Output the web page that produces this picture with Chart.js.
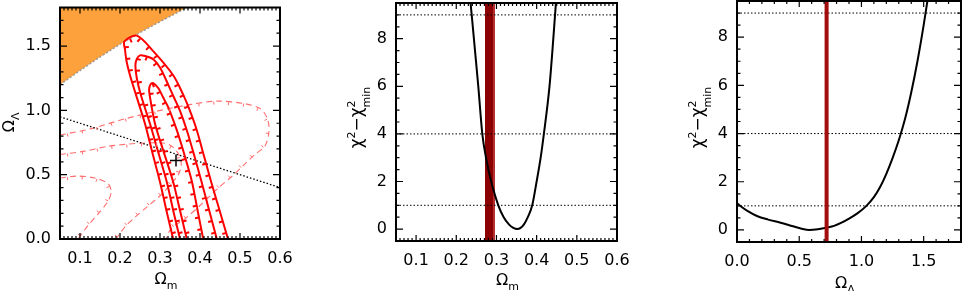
<!DOCTYPE html>
<html><head><meta charset="utf-8">
<script src="https://cdn.jsdelivr.net/npm/chart.js@4.4.1/dist/chart.umd.min.js"></script>
<style>
html,body{margin:0;padding:0;background:#fff;width:962px;height:291px;overflow:hidden}
canvas{position:absolute;top:0}
</style></head><body>
<canvas id="c1" width="320" height="291" style="left:0px;width:320px;height:291px"></canvas>
<canvas id="c2" width="320" height="291" style="left:320px;width:320px;height:291px"></canvas>
<canvas id="c3" width="322" height="291" style="left:640px;width:322px;height:291px"></canvas>
<script>
// ---------- Panel 1: Omega_m vs Omega_Lambda ----------
const noBigBangOm = [0.05, 0.10, 0.15, 0.20, 0.25, 0.30, 0.3675];
const noBigBangOl = [1.20, 1.31, 1.415, 1.515, 1.605, 1.69, 1.80];

// SN contours (3, 2, 1 sigma), traced bottom-left -> top -> bottom-right
const sn3Om = [0.333,0.316,0.300,0.281,0.2625,0.245,0.235,0.225,0.2165,0.2125,0.211,0.242,0.283,0.333,0.358,0.375,0.392,0.410,0.428,0.449,0.470];
const sn3Ol = [0.000,0.222,0.444,0.670,0.896,1.072,1.170,1.273,1.380,1.474,1.536,1.581,1.461,1.273,1.122,0.996,0.846,0.645,0.444,0.222,0.000];
const sn2Om = [0.350,0.333,0.317,0.296,0.275,0.252,0.242,0.2385,0.242,0.250,0.2625,0.283,0.300,0.321,0.335,0.350,0.367,0.386,0.404,0.423,0.442];
const sn2Ol = [0.000,0.222,0.444,0.670,0.896,1.122,1.250,1.350,1.400,1.428,1.423,1.398,1.333,1.197,1.100,0.996,0.846,0.645,0.444,0.222,0.000];
const sn1Om = [0.367,0.350,0.333,0.310,0.2875,0.274,0.273,0.277,0.283,0.296,0.308,0.321,0.342,0.362,0.380,0.394,0.408];
const sn1Ol = [0.000,0.222,0.444,0.670,0.896,1.122,1.170,1.205,1.212,1.172,1.100,1.022,0.846,0.645,0.444,0.222,0.000];

// BAO contours (3, 2, 1 sigma), dashed
const bao3Om = [0.05,0.128,0.212,0.295,0.378,0.445,0.512,0.553,0.570,0.572,0.562,0.537,0.512,0.478,0.445,0.403,0.362,0.328,0.315];
const bao3Ol = [0.808,0.858,0.934,0.996,1.047,1.072,1.052,1.009,0.921,0.821,0.721,0.657,0.582,0.482,0.394,0.269,0.156,0.083,0.000];
const bao2Om = [0.05,0.112,0.170,0.253,0.312,0.3325,0.349,0.353,0.345,0.328,0.303,0.270,0.237,0.212,0.190];
const bao2Ol = [0.657,0.683,0.721,0.745,0.745,0.715,0.645,0.570,0.495,0.431,0.344,0.256,0.168,0.093,0.000];
const bao1Om = [0.05,0.095,0.137,0.170,0.178,0.170,0.145,0.120,0.095];
const bao1Ol = [0.474,0.489,0.474,0.431,0.369,0.294,0.194,0.105,0.000];

const flatOm = [0.05, 0.60];
const flatOl = [0.95, 0.40];
const bestOm = [0.34];
const bestOl = [0.61];

// ---------- Panel 2: delta chi^2 vs Omega_m ----------
const chiOmX = [0.233,0.2355,0.2384,0.2466,0.2548,0.2648,0.274,0.287,0.3046,0.318,0.331,0.342,0.352,0.360,0.3685,0.378,0.389,0.400,0.410,0.418,0.432,0.4415,0.448,0.450];
const chiOmY = [10.0,9.5,9.0,7.5,6.0,4.0,3.0,2.0,1.0,0.5,0.2,0.05,0.0,0.05,0.2,0.5,1.0,2.0,3.0,4.0,6.0,8.0,9.5,10.0];
const bandOmDark = [0.2715, 0.2905];
const bandOmLight = [0.2905, 0.297];

// ---------- Panel 3: delta chi^2 vs Omega_Lambda ----------
const chiOlX = [0.00,0.03,0.08,0.16,0.25,0.35,0.45,0.52,0.58,0.65,0.72,0.78,0.84,0.90,0.97,1.04,1.10,1.15,1.20,1.25,1.30,1.35,1.40,1.45,1.50,1.53,1.56];
const chiOlY = [1.12,0.98,0.80,0.58,0.43,0.30,0.15,0.05,0.00,0.03,0.10,0.17,0.30,0.47,0.70,1.00,1.36,1.78,2.33,2.98,3.72,4.60,5.70,7.00,8.50,9.50,10.5];
const markOl = [0.72];

const chiLevels = [1, 4, 9];

// ---------- Tick values ----------
const omTicks = [0.1, 0.2, 0.3, 0.4, 0.5, 0.6];
const olTicks1 = [0.0, 0.5, 1.0, 1.5];
const chiTicks = [0, 2, 4, 6, 8];
const olTicks3 = [0.0, 0.5, 1.0, 1.5];

// ---------- helpers ----------
const FONT = '"DejaVu Sans", sans-serif';
const zip = (xs, ys) => xs.map((x, i) => ({x, y: ys[i]}));

function richText(ctx, parts, cx, cy, rotate, size, small, supDy, subDy) {
  const big = size + 'px ' + FONT, sm = small + 'px ' + FONT;
  const items = []; let x = 0;
  for (let i = 0; i < parts.length; i++) {
    const p = parts[i];
    if (p.sup && parts[i + 1] && parts[i + 1].sub) {
      ctx.font = sm;
      const w1 = ctx.measureText(p.t).width, w2 = ctx.measureText(parts[i + 1].t).width;
      items.push({t: p.t, f: sm, x, dy: supDy});
      items.push({t: parts[i + 1].t, f: sm, x, dy: subDy});
      x += Math.max(w1, w2); i++; continue;
    }
    const f = (p.sup || p.sub) ? sm : big;
    ctx.font = f;
    const w = ctx.measureText(p.t).width;
    items.push({t: p.t, f, x, dy: p.sup ? supDy : (p.sub ? subDy : 0)});
    x += w;
  }
  ctx.save();
  ctx.translate(cx, cy);
  if (rotate) ctx.rotate(-Math.PI / 2);
  ctx.fillStyle = '#000'; ctx.textBaseline = 'alphabetic'; ctx.textAlign = 'left';
  for (const it of items) { ctx.font = it.f; ctx.fillText(it.t, it.x - x / 2, it.dy); }
  ctx.restore();
}

function framePlugin(cfg) {
  return {
    id: 'frame',
    beforeDatasetsDraw(chart) {
      if (!cfg.bands) return;
      const ctx = chart.ctx, a = chart.chartArea, xs = chart.scales.x;
      ctx.save();
      for (const b of cfg.bands) {
        const x0 = Math.round(xs.getPixelForValue(b.range[0])), x1 = Math.round(xs.getPixelForValue(b.range[1]));
        ctx.fillStyle = b.color;
        ctx.fillRect(x0, Math.floor(a.top), x1 - x0, Math.ceil(a.bottom - a.top));
      }
      ctx.restore();
    },
    afterDraw(chart) {
      const ctx = chart.ctx, a = chart.chartArea;
      const xs = chart.scales.x, ys = chart.scales.y;
      ctx.save();
      ctx.setLineDash([]);
      ctx.strokeStyle = '#000';
      ctx.lineWidth = 1.2;
      ctx.beginPath();
      const nx0 = Math.ceil(xs.min / cfg.xMinor - 1e-6), nx1 = Math.floor(xs.max / cfg.xMinor + 1e-6);
      for (let k = nx0; k <= nx1; k++) {
        const v = k * cfg.xMinor;
        const r = v / cfg.xMajor;
        const len = Math.abs(r - Math.round(r)) < 1e-6 ? 6 : 3;
        const px = xs.getPixelForValue(v);
        ctx.moveTo(px, a.bottom); ctx.lineTo(px, a.bottom - len);
        ctx.moveTo(px, a.top); ctx.lineTo(px, a.top + len);
      }
      const ny0 = Math.ceil(ys.min / cfg.yMinor - 1e-6), ny1 = Math.floor(ys.max / cfg.yMinor + 1e-6);
      for (let k = ny0; k <= ny1; k++) {
        const v = k * cfg.yMinor;
        const r = v / cfg.yMajor;
        const len = Math.abs(r - Math.round(r)) < 1e-6 ? 7 : 3.5;
        const py = ys.getPixelForValue(v);
        ctx.moveTo(a.left, py); ctx.lineTo(a.left + len, py);
        ctx.moveTo(a.right, py); ctx.lineTo(a.right - len, py);
      }
      ctx.stroke();
      ctx.lineWidth = 2;
      ctx.strokeRect(a.left, a.top, a.right - a.left, a.bottom - a.top);
      const cxm = (a.left + a.right) / 2, cym = (a.top + a.bottom) / 2;
      richText(ctx, cfg.xTitle, cxm + cfg.xTitleDx, a.bottom + cfg.xTitleDy, false, 16, 11, -6, 4.5);
      const t = cfg.yTitleStyle;
      richText(ctx, cfg.yTitle, a.left + cfg.yTitleDx, cym + cfg.yTitleDy, true, t[0], t[1], t[2], t[3]);
      ctx.restore();
    }
  };
}

const contourTicks = {
  id: 'contourTicks',
  afterDatasetsDraw(chart) {
    const ctx = chart.ctx, a = chart.chartArea;
    ctx.save();
    ctx.beginPath(); ctx.rect(a.left, a.top, a.right - a.left, a.bottom - a.top); ctx.clip();
    chart.data.datasets.forEach((ds, i) => {
      if (!ds.tickSpacing) return;
      const pts = chart.getDatasetMeta(i).data.map(p => ({x: p.x, y: p.y}));
      ctx.strokeStyle = ds.borderColor; ctx.lineWidth = ds.tickWidth; ctx.setLineDash([]);
      let carry = ds.tickSpacing / 2;
      for (let k = 0; k < pts.length - 1; k++) {
        const p = pts[k], q = pts[k + 1];
        const dx = q.x - p.x, dy = q.y - p.y, L = Math.hypot(dx, dy);
        if (!L) continue;
        const nx = -dy / L, ny = dx / L;
        let s = carry;
        while (s <= L) {
          const t = s / L, px = p.x + dx * t, py = p.y + dy * t;
          ctx.beginPath(); ctx.moveTo(px, py); ctx.lineTo(px + nx * ds.tickLen, py + ny * ds.tickLen); ctx.stroke();
          s += ds.tickSpacing;
        }
        carry = s - L;
      }
    });
    ctx.restore();
  }
};

function makeChart(id, datasets, o) {
  return new Chart(document.getElementById(id), {
    type: 'scatter',
    data: {datasets},
    options: {
      responsive: false, animation: false, devicePixelRatio: 1,
      layout: {padding: o.pad},
      plugins: {legend: {display: false}, tooltip: {enabled: false}},
      elements: {point: {radius: 0, hoverRadius: 0}},
      scales: {
        x: {
          type: 'linear', min: o.xMin, max: o.xMax,
          afterBuildTicks: s => { s.ticks = o.xTicks.map(v => ({value: v})); },
          afterFit: s => { s.height = o.xH; s.paddingLeft = 0; s.paddingRight = 0; },
          ticks: {callback: o.xFmt, font: {family: FONT, size: 16}, color: '#000', padding: 10, maxRotation: 0, autoSkip: false},
          grid: {display: false, drawTicks: false}, border: {display: false}
        },
        y: {
          type: 'linear', min: o.yMin, max: o.yMax,
          afterBuildTicks: s => { s.ticks = o.yTicks.map(v => ({value: v})); },
          afterFit: s => { s.width = o.yW; s.paddingTop = 0; s.paddingBottom = 0; },
          ticks: {callback: o.yFmt, font: {family: FONT, size: 16}, color: '#000', padding: 9, autoSkip: false},
          grid: {display: false, drawTicks: false}, border: {display: false}
        }
      }
    },
    plugins: [contourTicks, framePlugin(o.frame)]
  });
}

const solid = (xs, ys) => ({data: zip(xs, ys), showLine: true, borderColor: '#ff0000', borderWidth: 2, tension: 0.3,
  tickSpacing: 12, tickLen: 4, tickWidth: 2, order: 3});
const dashed = (xs, ys) => ({data: zip(xs, ys), showLine: true, borderColor: '#ff6e6e', borderWidth: 1.1, borderDash: [6, 4], tension: 0.3,
  tickSpacing: 15, tickLen: 3, tickWidth: 1, order: 7});
const fix1 = v => Number(v).toFixed(1);
const fix0 = v => String(Math.round(v));

// Panel 1
makeChart('c1', [
  {data: zip(noBigBangOm, noBigBangOl), showLine: true, fill: 'end', backgroundColor: '#fda13d',
   borderColor: '#9a9a9a', borderWidth: 1.5, borderDash: [2, 2], order: 9},
  dashed(bao3Om, bao3Ol), dashed(bao2Om, bao2Ol), dashed(bao1Om, bao1Ol),
  {data: zip(flatOm, flatOl), showLine: true, borderColor: '#000', borderWidth: 1.3, borderDash: [1.5, 2], order: 6},
  solid(sn3Om, sn3Ol), solid(sn2Om, sn2Ol), solid(sn1Om, sn1Ol),
  {data: zip(bestOm, bestOl), showLine: false, pointStyle: 'cross', pointRadius: 6, pointBorderColor: '#000', pointBorderWidth: 1.5, order: 1}
], {
  pad: {left: 0, right: 40, top: 1, bottom: 0}, xH: 52, yW: 60,
  xMin: 0.05, xMax: 0.6, yMin: 0, yMax: 1.8, xTicks: omTicks, yTicks: olTicks1, xFmt: fix1, yFmt: fix1,
  frame: {xMinor: 0.01, xMajor: 0.1, yMinor: 0.1, yMajor: 0.5,
    xTitle: [{t: 'Ω'}, {t: 'm', sub: true}], xTitleDx: -4, xTitleDy: 45,
    yTitle: [{t: 'Ω'}, {t: 'Λ', sub: true}], yTitleDx: -46, yTitleDy: -1, yTitleStyle: [16, 11, -6, 4.5]}
});

const levelSets = (xMin, xMax) => chiLevels.map(l => ({data: [{x: xMin, y: l}, {x: xMax, y: l}], showLine: true,
  borderColor: '#000', borderWidth: 1, borderDash: [1.5, 2], order: 5}));
const chiTitle = [{t: 'χ'}, {t: '2', sup: true}, {t: '−'}, {t: 'χ'}, {t: '2', sup: true}, {t: 'min', sub: true}];

// Panel 2
makeChart('c2', [
  ...levelSets(0.05, 0.6),
  {data: zip(chiOmX, chiOmY), showLine: true, borderColor: '#000', borderWidth: 2, cubicInterpolationMode: 'monotone', order: 1}
], {
  pad: {left: 0, right: 23, top: 3, bottom: 0}, xH: 50, yW: 76,
  xMin: 0.05, xMax: 0.6, yMin: -0.5, yMax: 9.5, xTicks: omTicks, yTicks: chiTicks, xFmt: fix1, yFmt: fix0,
  frame: {xMinor: 0.01, xMajor: 0.1, yMinor: 0.5, yMajor: 2,
    bands: [{range: bandOmDark, color: '#8b0000'}, {range: bandOmLight, color: '#b53030'}],
    xTitle: [{t: 'Ω'}, {t: 'm', sub: true}], xTitleDx: 1, xTitleDy: 44,
    yTitle: chiTitle, yTitleDx: -34, yTitleDy: -4.5, yTitleStyle: [17, 11, -7, 7.5]}
});

// Panel 3
makeChart('c3', [
  ...levelSets(0, 1.8),
  {data: zip(chiOlX, chiOlY), showLine: true, borderColor: '#000', borderWidth: 2, cubicInterpolationMode: 'monotone', order: 2},
  {data: [{x: markOl[0], y: -0.5}, {x: markOl[0], y: 9.5}], showLine: true, borderColor: '#a30d0d', borderWidth: 4, order: 1}
], {
  pad: {left: 0, right: 1, top: 1, bottom: 0}, xH: 49, yW: 97,
  xMin: 0, xMax: 1.8, yMin: -0.5, yMax: 9.5, xTicks: olTicks3, yTicks: chiTicks, xFmt: fix1, yFmt: fix0,
  frame: {xMinor: 0.1, xMajor: 0.5, yMinor: 0.5, yMajor: 2,
    xTitle: [{t: 'Ω'}, {t: 'Λ', sub: true}], xTitleDx: -4, xTitleDy: 46,
    yTitle: chiTitle, yTitleDx: -34, yTitleDy: -4, yTitleStyle: [17, 11, -7, 7.5]}
});
</script>
</body></html>
